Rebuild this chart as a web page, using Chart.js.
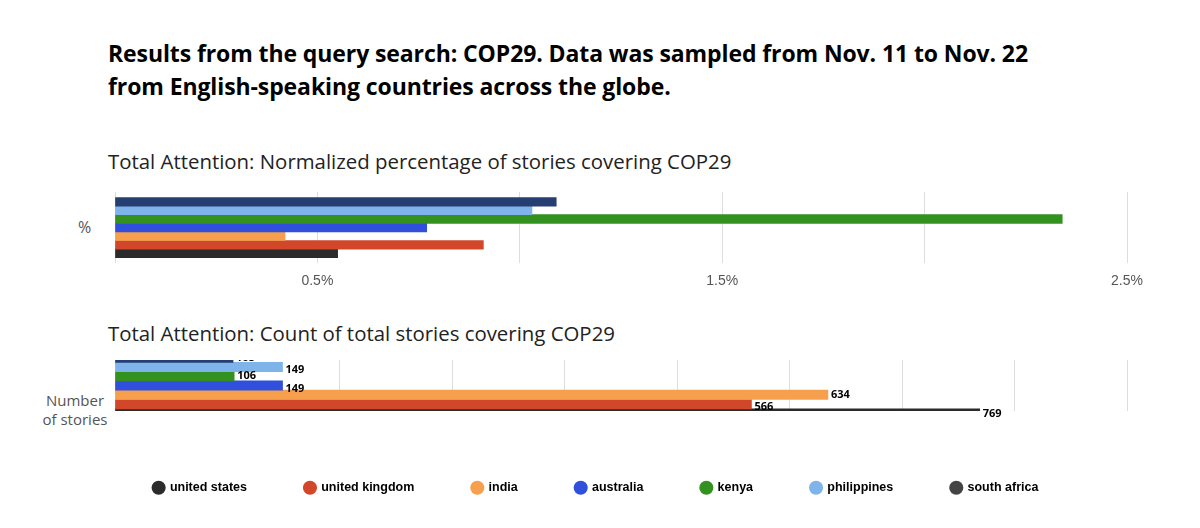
<!DOCTYPE html>
<html><head><meta charset="utf-8">
<script src="https://cdn.jsdelivr.net/npm/chart.js@4"></script>
<style>
body{margin:0;width:1200px;height:528px;background:#fff;font-family:"Open Sans",Lato,sans-serif;position:relative;overflow:hidden}
.t{position:absolute;left:108px;top:37px;font-size:23px;font-weight:bold;line-height:33px;color:#000;letter-spacing:-0.1px}
.s{position:absolute;left:108px;font-size:20.4px;color:#222}
.yl{position:absolute;color:#555;font-size:15px;text-align:center;line-height:19px}
.w{position:absolute;left:0;width:1200px}
</style></head><body>
<div class="t">Results from the query search: COP29. Data was sampled from Nov. 11 to Nov. 22<br>from English-speaking countries across the globe.</div>
<div class="s" style="top:147px">Total Attention: Normalized percentage of stories covering COP29</div>
<div class="s" style="top:319px">Total Attention: Count of total stories covering COP29</div>
<div class="yl" style="left:78px;top:218px;font-size:16px">%</div>
<div class="yl" style="left:36px;top:391px;width:78px">Number<br>of stories</div>
<div class="w" style="top:190px;height:110px"><canvas id="c1"></canvas></div>
<div class="w" style="top:360px;height:150px"><canvas id="c2"></canvas></div>
<script>
const countries=["south africa","philippines","kenya","australia","india","united kingdom","united states"];
const colors=["#263f73","#7fb4ea","#33921f","#2f4fdc","#f6a04d","#d2462a","#2b2b2b"];
const legendColors=["#444444","#7fb4ea","#33921f","#2f4fdc","#f6a04d","#d2462a","#2b2b2b"];
const percentValues=[1.09,1.03,2.34,0.77,0.42,0.91,0.55];
const countValues=[105,149,106,149,634,566,769];
const pctTickLabels={0.5:"0.5%",1.5:"1.5%",2.5:"2.5%"};

function ds(vals,t){return countries.map((c,i)=>({label:c,data:[vals[i]],backgroundColor:colors[i],barThickness:t}));}
const grid={color:"#dddddd",drawTicks:false};

new Chart(document.getElementById("c1"),{type:"bar",
 data:{labels:["%"],datasets:ds(percentValues,8.6)},
 options:{indexAxis:"y",responsive:true,maintainAspectRatio:false,animation:false,
  layout:{padding:{left:115,right:73,top:2,bottom:0}},
  plugins:{legend:{display:false},tooltip:{enabled:false}},
  scales:{x:{min:0,max:2.5,border:{display:false},grid:grid,
    ticks:{stepSize:0.5,padding:10,color:"#555",font:{size:14},autoSkip:false,maxRotation:0,callback:v=>pctTickLabels[v]||""}},
   y:{display:false}}}});

const labelPlugin={id:"vl",afterDatasetsDraw(ch){const x=ch.ctx;x.save();x.font="bold 11px 'Open Sans',sans-serif";x.fillStyle="#000";x.textBaseline="middle";
 ch.data.datasets.forEach((d,i)=>{const el=ch.getDatasetMeta(i).data[0];x.fillText(String(d.data[0]),el.x+3,el.y+(i%2?3:0));});x.restore();}};

new Chart(document.getElementById("c2"),{type:"bar",
 data:{labels:["Number of stories"],datasets:ds(countValues,9.3)},
 plugins:[labelPlugin],
 options:{indexAxis:"y",responsive:true,maintainAspectRatio:false,animation:false,
  layout:{padding:{left:115,right:73,top:0,bottom:6}},
  plugins:{tooltip:{enabled:false},
   legend:{position:"bottom",reverse:true,labels:{usePointStyle:true,pointStyle:"circle",boxWidth:10,boxHeight:10,padding:8,color:"#333",font:{size:12.5,weight:"bold"},
    generateLabels(ch){return ch.data.datasets.map((d,i)=>({text:d.label+"\u2003\u2003\u2003\u2003",fillStyle:legendColors[i],strokeStyle:legendColors[i],lineWidth:0,pointStyle:"circle",datasetIndex:i,hidden:false}));}}}},
  scales:{x:{min:0,max:900,border:{display:false},grid:grid,
    ticks:{stepSize:100,padding:24,color:"rgba(0,0,0,0)",font:{size:12}}},
   y:{display:false}}}});
</script></body></html>
